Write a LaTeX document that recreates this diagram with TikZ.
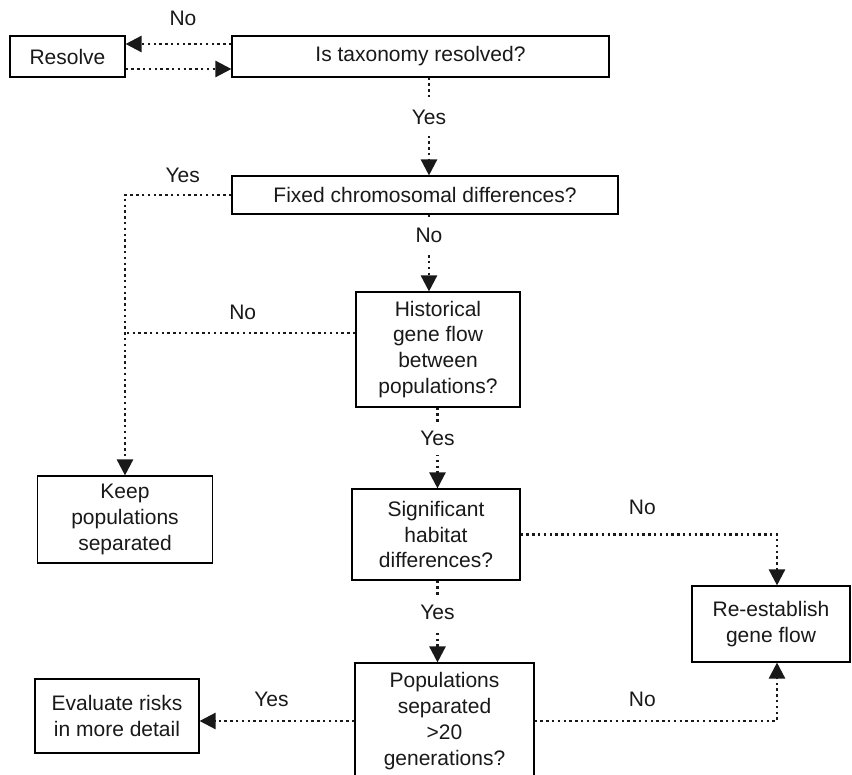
\documentclass[tikz,border=0pt]{standalone}
\usepackage{fontspec}
\setmainfont{Liberation Sans}
\usetikzlibrary{arrows.meta}
\begin{document}
\begin{tikzpicture}[x=1pt,y=-1pt,
  box/.style={draw=black, line width=1.1pt, inner sep=0pt, align=center, font=\fontsize{21}{25.9}\selectfont, text=black!90},
  link/.style={line width=2.4pt, dash pattern=on 2.4pt off 3.4pt, line cap=butt, color=black!90},
  flow/.style={link, -{Triangle[length=16pt,width=16pt]}},
  lbl/.style={font=\fontsize{21}{25.9}\selectfont, inner sep=0pt, text=black!90},
  vlbl/.style={lbl, fill=white, inner xsep=3pt, inner ysep=#1},
]
\useasboundingbox (0,0) rectangle (852,775);
\fill[white] (0,0) rectangle (852,775);

\node[box, minimum width=115pt, minimum height=41pt] (resolve) at (67.5,56.5) {Resolve};
\node[box, minimum width=377pt, minimum height=41pt] (tax) at (420.5,56.5) {Is taxonomy resolved?};
\node[box, minimum width=386pt, minimum height=38pt] (fixed) at (425,195) {Fixed chromosomal differences?};
\node[box, minimum width=164pt, minimum height=115pt] (hist) at (438,349.5) {Historical\\gene flow\\between\\populations?};
\node[box, minimum width=175pt, minimum height=87pt] (keep) at (125,519.5) {Keep\\populations\\separated};
\node[box, minimum width=168pt, minimum height=91pt] (sig) at (436,534.5) {Significant\\habitat\\differences?};
\node[box, minimum width=158pt, minimum height=76pt] (re) at (771,624) {Re-establish\\gene flow};
\node[box, minimum width=179pt, minimum height=116pt] (pop) at (444.5,721) {Populations\\separated\\>20\\generations?};
\node[box, minimum width=164pt, minimum height=74pt] (eval) at (117,716) {Evaluate risks\\in more detail};

\coordinate (va) at (429,0);
\coordinate (vb) at (437.5,0);
\coordinate (rx) at (777,0);

\draw[flow] ([yshift=12.5pt]tax.west) -- node[lbl, xshift=4.5pt, yshift=26pt]{No} ([yshift=12.5pt]resolve.east);
\draw[flow] ([yshift=-12.5pt]resolve.east) -- ([yshift=-12.5pt]tax.west);
\draw[flow] (tax.south -| va) -- node[vlbl=10pt, pos=0.41]{Yes} (fixed.north -| va);
\draw[flow] (fixed.west) -- node[lbl, xshift=4.5pt, yshift=20pt]{Yes} (fixed.west -| keep.north) -- (keep.north);
\draw[flow] (fixed.south -| va) -- node[vlbl=10pt, pos=0.27]{No} (hist.north -| va);
\draw[link] ([yshift=16.5pt]hist.west) -- node[lbl, xshift=2.5pt, yshift=21pt]{No} ([yshift=16.5pt]hist.west -| keep.north);
\draw[flow] (hist.south -| vb) -- node[vlbl=9pt, pos=0.38]{Yes} (sig.north -| vb);
\draw[flow] (sig.south -| vb) -- node[vlbl=10pt, pos=0.39]{Yes} (pop.north -| vb);
\draw[flow] (sig.east) -- node[lbl, xshift=-6.5pt, yshift=27.5pt]{No} (sig.east -| rx) -- (re.north -| rx);
\draw[flow] (pop.east) -- node[lbl, xshift=-13.5pt, yshift=21.5pt]{No} (pop.east -| rx) -- (re.south -| rx);
\draw[flow] (pop.west) -- node[lbl, xshift=-5.5pt, yshift=22pt]{Yes} (pop.west -| eval.east);
\end{tikzpicture}
\end{document}
